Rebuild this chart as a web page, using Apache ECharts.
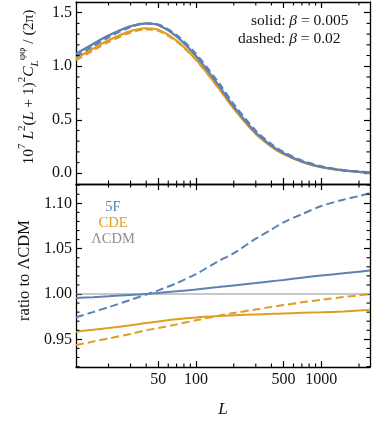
<!DOCTYPE html>
<html><head><meta charset="utf-8">
<script src="https://cdn.jsdelivr.net/npm/echarts@6/dist/echarts.min.js"></script>
<style>html,body{margin:0;padding:0;background:#fff}#c{width:373px;height:431px}</style>
</head><body><div id="c"></div>
<script>
// ---- data ----
const L = [11, 15, 20, 30, 40, 50, 70, 100, 150, 200, 300, 400, 500, 700, 1000, 1500, 2000, 2450];
// top panel: 10^7 L^2 (L+1)^2 C_L^{phiphi} / (2pi)
const clLCDM    = [1.120, 1.210, 1.290, 1.375, 1.400, 1.383, 1.275, 1.090, 0.823, 0.618, 0.375, 0.254, 0.184, 0.109, 0.058, 0.026, 0.014, 0.008];
const cl5Fsolid = [1.115, 1.206, 1.287, 1.374, 1.400, 1.385, 1.279, 1.095, 0.829, 0.624, 0.380, 0.258, 0.187, 0.111, 0.059, 0.027, 0.014, 0.008];
const cl5Fdash  = [1.091, 1.186, 1.271, 1.366, 1.399, 1.389, 1.290, 1.114, 0.853, 0.646, 0.398, 0.272, 0.199, 0.119, 0.064, 0.029, 0.016, 0.009];
const clCDEsolid= [1.074, 1.162, 1.242, 1.328, 1.355, 1.341, 1.240, 1.062, 0.803, 0.604, 0.367, 0.248, 0.180, 0.107, 0.057, 0.026, 0.014, 0.008];
const clCDEdash = [1.057, 1.146, 1.227, 1.315, 1.344, 1.331, 1.232, 1.058, 0.803, 0.605, 0.369, 0.250, 0.182, 0.108, 0.058, 0.026, 0.014, 0.008];
// bottom panel: ratio to LCDM
const r5Fsolid  = [0.9955, 0.9965, 0.9975, 0.9990, 1.0000, 1.0012, 1.0030, 1.0050, 1.0076, 1.0095, 1.0120, 1.0140, 1.0155, 1.0180, 1.0203, 1.0228, 1.0246, 1.0259];
const r5Fdash   = [0.9744, 0.9800, 0.9855, 0.9935, 0.9995, 1.0040, 1.0120, 1.0220, 1.0360, 1.0450, 1.0610, 1.0710, 1.0790, 1.0880, 1.0970, 1.1040, 1.1080, 1.1114];
const rCDEsolid = [0.9585, 0.9605, 0.9625, 0.9655, 0.9680, 0.9698, 0.9722, 0.9742, 0.9758, 0.9766, 0.9775, 0.9781, 0.9786, 0.9792, 0.9798, 0.9808, 0.9818, 0.9826];
const rCDEdash  = [0.9437, 0.9475, 0.9510, 0.9560, 0.9600, 0.9625, 0.9665, 0.9710, 0.9760, 0.9790, 0.9830, 0.9858, 0.9878, 0.9908, 0.9937, 0.9966, 0.9986, 1.0000];
const Ledge = [11, 2450];
const rLCDM = [1, 1];
// ticks / labels
const xMajor = [50, 100, 500, 1000];
const xMinor = [20, 30, 40, 60, 70, 80, 90, 200, 300, 400, 600, 700, 800, 900, 2000];
const xLabels = [50, 100, 500, 1000];
const yTopMajor = [0, 0.5, 1.0, 1.5];
const yTopMinor = [0.1, 0.2, 0.3, 0.4, 0.6, 0.7, 0.8, 0.9, 1.1, 1.2, 1.3, 1.4];
const yBotMajor = [0.95, 1.00, 1.05, 1.10];
const yBotMinor = [0.92, 0.93, 0.94, 0.96, 0.97, 0.98, 0.99, 1.01, 1.02, 1.03, 1.04, 1.06, 1.07, 1.08, 1.09, 1.11, 1.12];

// ---- styling ----
const FONT = 'Liberation Serif';
const BLUE = '#5E81B5', ORANGE = '#E19C24', GREY = '#8f8f8f';
const X_EXT = [11, 2450], YT_EXT = [-0.1, 1.6], YB_EXT = [0.9195, 1.1213];
const GT = {left: 76, top: 2, width: 294, height: 182};
const GB = {left: 76, top: 184, width: 294, height: 183};
const MAJOR_LEN = 6, MINOR_LEN = 3.5;

function pts(xs, ys) { return xs.map((x, i) => [x, ys[i]]); }

function xA(gridIndex, position, labels, extra) {
  return Object.assign({
    type: 'log', logBase: 10, gridIndex, position, min: X_EXT[0], max: X_EXT[1],
    axisLine: {show: true, onZero: false, lineStyle: {color: '#000', width: 1.3}},
    axisTick: {show: true, inside: true, length: MAJOR_LEN, customValues: xMajor, lineStyle: {color: '#000', width: 1.2}},
    axisLabel: labels ? {show: true, customValues: labels, formatter: v => String(Math.round(v)),
      fontFamily: FONT, fontSize: 16, color: '#111', margin: 5} : {show: false},
    splitLine: {show: false}, minorTick: {show: false}, minorSplitLine: {show: false}
  }, extra || {});
}
function yA(gridIndex, position, ext, ticks, labels, dec, extra) {
  return Object.assign({
    type: 'value', gridIndex, position, min: ext[0], max: ext[1],
    axisLine: {show: true, onZero: false, lineStyle: {color: '#000', width: 1.3}},
    axisTick: {show: true, inside: true, length: MAJOR_LEN, customValues: ticks, lineStyle: {color: '#000', width: 1.2}},
    axisLabel: labels ? {show: true, customValues: labels, formatter: v => Number(v).toFixed(dec),
      fontFamily: FONT, fontSize: 16, color: '#111', margin: 4} : {show: false},
    splitLine: {show: false}
  }, extra || {});
}

// minor tick marks, drawn inward on both opposite frame sides through the axes' scales
function tickSeries(panel, dir, vals, len) {
  const ext = panel === 0 ? YT_EXT : YB_EXT;
  const ai = panel === 0 ? 0 : 2;
  return {
    type: 'custom', xAxisIndex: ai, yAxisIndex: ai, silent: true, z: 10,
    data: vals.map(v => dir === 'x' ? [v, ext[0]] : [X_EXT[0], v]),
    renderItem: (params, api) => {
      const cs = params.coordSys;
      const p = api.coord([api.value(0), api.value(1)]);
      const st = () => ({stroke: '#000', lineWidth: 1.1});
      if (dir === 'x') {
        const x = p[0];
        return {type: 'group', children: [
          {type: 'line', shape: {x1: x, y1: cs.y + cs.height, x2: x, y2: cs.y + cs.height - len}, style: st()},
          {type: 'line', shape: {x1: x, y1: cs.y, x2: x, y2: cs.y + len}, style: st()}
        ]};
      }
      const y = p[1];
      return {type: 'group', children: [
        {type: 'line', shape: {x1: cs.x, y1: y, x2: cs.x + len, y2: y}, style: st()},
        {type: 'line', shape: {x1: cs.x + cs.width, y1: y, x2: cs.x + cs.width - len, y2: y}, style: st()}
      ]};
    }
  };
}

const nrm = {fontFamily: FONT, fontSize: 15.5, lineHeight: 24, color: '#111'};
const itl = {fontFamily: FONT, fontSize: 15.5, fontStyle: 'italic', lineHeight: 24, color: '#111'};
const sup = {fontFamily: FONT, fontSize: 11, verticalAlign: 'top', lineHeight: 24, color: '#111'};
const subi = {fontFamily: FONT, fontSize: 11, fontStyle: 'italic', verticalAlign: 'bottom', lineHeight: 24, color: '#111'};

function line(name, ai, xs, ys, color, width, dash, z) {
  return {name, type: 'line', xAxisIndex: ai, yAxisIndex: ai, data: pts(xs, ys), smooth: 0.3, showSymbol: false,
    lineStyle: {color, width, type: dash || 'solid'}, z};
}

const option = {
  animation: false,
  backgroundColor: '#fff',
  grid: [GT, GB],
  xAxis: [
    xA(0, 'bottom', null),
    xA(0, 'top', null),
    xA(1, 'bottom', xLabels, {
      name: 'L', nameLocation: 'middle', nameGap: 34,
      nameTextStyle: {fontFamily: FONT, fontSize: 17, fontStyle: 'italic', color: '#111'}
    }),
    xA(1, 'top', null)
  ],
  yAxis: [
    yA(0, 'left', YT_EXT, yTopMajor, yTopMajor, 1, {
      name: '{n|10}{sup|7}{n| }{i|L}{sup|2}{n|(}{i|L}{n| + 1)}{sup|2}{i|C}{subi|L}{sup|φφ}{n| / (2π)}',
      nameLocation: 'middle', nameRotate: 90, nameGap: 33,
      nameTextStyle: {rich: {n: nrm, i: itl, sup: sup, subi: subi}, padding: [0, 0, 0, 12]}
    }),
    yA(0, 'right', YT_EXT, yTopMajor, null, 1),
    yA(1, 'left', YB_EXT, yBotMajor, yBotMajor, 2, {
      name: 'ratio to ΛCDM', nameLocation: 'middle', nameRotate: 90, nameGap: 42,
      nameTextStyle: {fontFamily: FONT, fontSize: 16.5, color: '#111', padding: [0, 0, 0, 10]}
    }),
    yA(1, 'right', YB_EXT, yBotMajor, null, 2)
  ],
  series: [
    line('ΛCDM', 0, L, clLCDM, GREY, 1.5, null, 1),
    line('CDE', 0, L, clCDEsolid, ORANGE, 2.2, null, 2),
    line('CDE', 0, L, clCDEdash, ORANGE, 2.2, [7, 4], 3),
    line('5F', 0, L, cl5Fsolid, BLUE, 2.2, null, 4),
    line('5F', 0, L, cl5Fdash, BLUE, 2.2, [7, 4], 5),
    line('ΛCDM', 2, Ledge, rLCDM, GREY, 1.2, null, 1),
    line('CDE', 2, L, rCDEsolid, ORANGE, 2, null, 2),
    line('CDE', 2, L, rCDEdash, ORANGE, 2, [8, 4], 3),
    line('5F', 2, L, r5Fsolid, BLUE, 2, null, 4),
    line('5F', 2, L, r5Fdash, BLUE, 2, [8, 4], 5),
    tickSeries(0, 'x', xMinor, MINOR_LEN), tickSeries(0, 'y', yTopMinor, MINOR_LEN),
    tickSeries(1, 'x', xMinor, MINOR_LEN), tickSeries(1, 'y', yBotMinor, MINOR_LEN)
  ],
  graphic: [
    {type: 'text', left: 251, top: 13, style: {text: 'solid: {i|β} = 0.005', fill: '#111',
      font: '15.5px ' + FONT, rich: {i: {fontFamily: FONT, fontSize: 15.5, fontStyle: 'italic', fill: '#111'}}}},
    {type: 'text', left: 238, top: 31, style: {text: 'dashed: {i|β} = 0.02', fill: '#111',
      font: '15.5px ' + FONT, rich: {i: {fontFamily: FONT, fontSize: 15.5, fontStyle: 'italic', fill: '#111'}}}},
    {type: 'text', x: 113, y: 207, style: {text: '5F', fill: BLUE, font: '14.5px ' + FONT, align: 'center', verticalAlign: 'middle', textAlign: 'center', textVerticalAlign: 'middle'}},
    {type: 'text', x: 113, y: 223, style: {text: 'CDE', fill: ORANGE, font: '14.5px ' + FONT, align: 'center', verticalAlign: 'middle', textAlign: 'center', textVerticalAlign: 'middle'}},
    {type: 'text', x: 113, y: 239, style: {text: 'ΛCDM', fill: GREY, font: '14.5px ' + FONT, align: 'center', verticalAlign: 'middle', textAlign: 'center', textVerticalAlign: 'middle'}}
  ]
};
const chart = echarts.init(document.getElementById('c'), null, {renderer: 'canvas'});
chart.setOption(option);
</script>
</body></html>
